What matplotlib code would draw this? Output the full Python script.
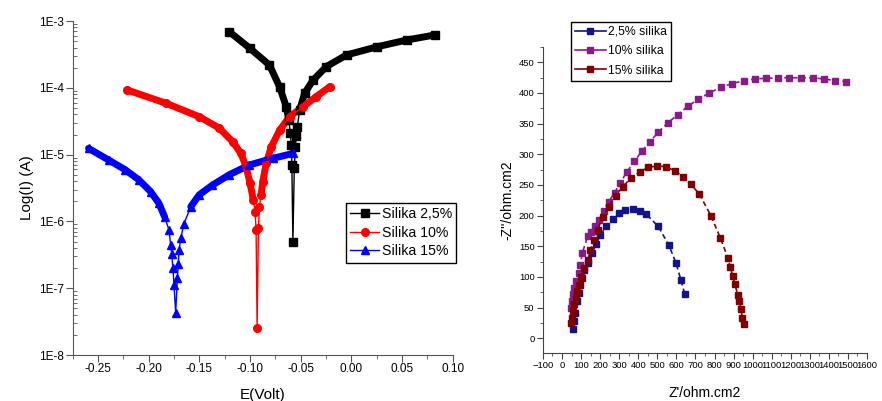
import numpy as np
import matplotlib
matplotlib.use("Agg")
import matplotlib.pyplot as plt
from matplotlib.ticker import FixedLocator, FuncFormatter, LogLocator, NullFormatter, MultipleLocator

plt.rcParams['font.family'] = ['Liberation Sans', 'DejaVu Sans']

# ---------------- Tafel data (E in V, I in A) ----------------
E_25 = [-0.1203, -0.1000, -0.0807, -0.0708, -0.0641, -0.0616, -0.0602, -0.0592, -0.0586, -0.0576,
        -0.0562, -0.0552, -0.0542, -0.0532, -0.0509, -0.0460, -0.0378, -0.0245, -0.0047, 0.0251,
        0.0548, 0.0829]
I_25 = [6.9e-4, 3.9e-4, 2.19e-4, 1.04e-4, 5.2e-5, 3.3e-5, 2.1e-5, 1.39e-5, 7.0e-6, 5.0e-7,
        6.2e-6, 1.32e-5, 1.9e-5, 2.6e-5, 4.7e-5, 8.3e-5, 1.3e-4, 2.08e-4, 3.1e-4, 4.1e-4,
        5.2e-4, 6.2e-4]

E_10 = [-0.2212, -0.1831, -0.1500, -0.1303, -0.1170, -0.1088, -0.1038, -0.0998, -0.0966, -0.0949,
        -0.0939, -0.0929, -0.0916, -0.0906, -0.0890, -0.0873, -0.0840, -0.0790, -0.0708, -0.0609,
        -0.0477, -0.0344, -0.0212]
I_10 = [9.3e-5, 5.9e-5, 3.7e-5, 2.5e-5, 1.56e-5, 1.04e-5, 6.6e-6, 3.7e-6, 2.08e-6, 1.4e-6,
        7.4e-7, 2.5e-8, 7.9e-7, 1.66e-6, 2.5e-6, 3.9e-6, 7.4e-6, 1.3e-5, 2.3e-5, 3.7e-5,
        5.2e-5, 7.4e-5, 1.04e-4]

E_15 = [-0.2592, -0.2393, -0.2228, -0.2096, -0.1980, -0.1898, -0.1841, -0.1798, -0.1782, -0.1772,
        -0.1759, -0.1749, -0.1732, -0.1716, -0.1706, -0.1699, -0.1682, -0.1650, -0.1583, -0.1500,
        -0.1369, -0.1203, -0.1005, -0.0774, -0.0576]
I_15 = [1.24e-5, 8.3e-6, 5.9e-6, 4.2e-6, 2.8e-6, 1.87e-6, 1.17e-6, 7.4e-7, 4.4e-7, 3.3e-7,
        2.0e-7, 1.12e-7, 4.2e-8, 1.42e-7, 2.3e-7, 3.7e-7, 5.6e-7, 9.3e-7, 1.66e-6, 2.5e-6,
        3.5e-6, 5.0e-6, 7.0e-6, 8.8e-6, 1.04e-5]

tafel_labels = ["Silika 2,5%", "Silika 10%", "Silika 15%"]

# ---------------- Nyquist data (ohm.cm2) ----------------
Zr_25 = [57.4, 64.4, 69.6, 78.4, 87.0, 96.0, 104.6, 116.9, 134.3, 157.0, 179.8, 200.8, 232.3, 265.5,
         297.0, 332.0, 370.4, 407.0, 442.0, 505.0, 559.5, 598.0, 624.0, 643.0]
Zi_25 = [14.6, 28.0, 41.6, 60.6, 74.0, 87.6, 98.4, 111.0, 122.8, 139.0, 153.6, 168.7, 182.3, 194.7,
         204.0, 209.3, 211.0, 208.2, 202.3, 182.3, 152.5, 122.8, 94.7, 73.0]

Zr_10 = [46.9, 52.2, 57.4, 64.4, 74.9, 88.9, 96.0, 106.4, 134.3, 151.8, 174.6, 192.0, 218.3, 244.5,
         276.0, 305.7, 340.7, 379.2, 419.4, 459.6, 505.1, 554.0, 606.5, 659.0, 715.0, 772.6, 832.0,
         891.6, 952.8, 1012.3, 1071.7, 1131.0, 1192.0, 1253.6, 1315.0, 1372.6, 1432.0, 1491.5]
Zi_10 = [49.8, 60.6, 71.4, 82.2, 93.0, 106.5, 120.0, 139.0, 166.0, 173.0, 183.9, 193.0, 208.2, 222.8,
         237.4, 253.7, 271.5, 288.3, 305.6, 320.2, 335.9, 351.0, 364.5, 378.0, 390.0, 400.2, 409.0,
         415.4, 419.7, 423.0, 424.0, 424.6, 425.1, 424.6, 424.6, 423.0, 420.3, 418.6]

Zr_15 = [48.7, 52.2, 59.1, 64.4, 71.4, 78.4, 88.9, 99.4, 116.9, 134.3, 148.3, 169.3, 186.8, 213.0,
         244.5, 281.3, 318.0, 361.7, 407.2, 452.6, 499.9, 545.3, 592.5, 636.3, 676.5, 720.2, 781.4,
         830.4, 870.6, 882.9, 895.1, 905.6, 923.1, 930.1, 938.8, 945.8, 952.8]
Zi_15 = [24.3, 33.5, 44.4, 55.2, 66.0, 76.8, 87.6, 100.0, 114.7, 127.1, 143.3, 160.6, 176.9, 197.4,
         214.7, 232.0, 247.2, 261.2, 271.5, 278.5, 281.2, 279.6, 273.1, 262.9, 251.0, 235.3, 199.6,
         163.9, 130.9, 116.3, 102.2, 89.2, 69.8, 60.6, 47.1, 33.5, 22.7]

nyq_labels = ["2,5% silika", "10% silika", "15% silika"]

# ---------------- Figure ----------------
fig = plt.figure(figsize=(8.82, 4.01), dpi=100)

# Left: Tafel
ax1 = fig.add_axes([0.0822, 0.1147, 0.4310, 0.8329])
tafel = [(E_25, I_25, 'black', 's', 3e-5),
         (E_10, I_10, '#ff0000', 'o', 2e-6),
         (E_15, I_15, '#0000ff', '^', 1.0e-6)]
for (E, I, c, m, thr), lab in zip(tafel, tafel_labels):
    E = np.array(E); I = np.array(I)
    band = np.where(I >= thr, I, np.nan)
    ax1.plot(E, band, color=c, lw=5, solid_capstyle='round', solid_joinstyle='round', zorder=2)
    ax1.plot(E, I, color=c, lw=1.0, marker=m, ms=5.5, mec=c, mfc=c, label=lab, zorder=3)

ax1.set_yscale('log')
ax1.set_ylim(1e-8, 1e-3)
ax1.set_xlim(-0.275, 0.10)
ax1.xaxis.set_major_locator(MultipleLocator(0.05))
ax1.xaxis.set_minor_locator(MultipleLocator(0.025))
ax1.xaxis.set_major_formatter(FuncFormatter(lambda v, p: f"{v:.2f}"))
ax1.yaxis.set_major_locator(LogLocator(base=10, numticks=10))
ax1.yaxis.set_minor_locator(LogLocator(base=10, subs=np.arange(2, 10), numticks=50))
ax1.yaxis.set_minor_formatter(NullFormatter())
ax1.yaxis.set_major_formatter(FuncFormatter(lambda v, p: f"1E{int(round(np.log10(v)))}"))
for s in ['top', 'right']:
    ax1.spines[s].set_visible(False)
for s in ['left', 'bottom']:
    ax1.spines[s].set_color('#555555')
ax1.tick_params(axis='both', which='major', direction='out', length=5, labelsize=8.5, color='#555555', pad=1)
ax1.tick_params(axis='y', which='minor', direction='in', length=3, color='#555555')
ax1.tick_params(axis='x', which='minor', direction='out', length=3, color='#555555')
ax1.set_ylabel("Log(I) (A)", fontsize=11, labelpad=4)
ax1.set_xlabel("E(Volt)", fontsize=11, labelpad=9)
leg1 = ax1.legend(loc='upper left', bbox_to_anchor=(0.72, 0.455), fontsize=10.2, frameon=True,
                  fancybox=False, edgecolor='black', framealpha=1, handlelength=2.0,
                  handletextpad=0.2, labelspacing=0.32, borderpad=0.3, borderaxespad=0)
leg1.get_frame().set_linewidth(1.0)

# Right: Nyquist
ax2 = fig.add_axes([0.6156, 0.1197, 0.3674, 0.7631])
nyq = [(Zr_25, Zi_25, '#13138a'), (Zr_10, Zi_10, '#8a1a8a'), (Zr_15, Zi_15, '#800000')]
for (x, y, c), lab in zip(nyq, nyq_labels):
    ax2.plot(x, y, color=c, lw=1.2, ls=(0, (3, 2)), marker='s', ms=4, mec=c, mfc=c, label=lab)
ax2.set_xlim(-100, 1600)
ax2.set_ylim(-24, 475)
ax2.xaxis.set_major_locator(MultipleLocator(100))
ax2.xaxis.set_minor_locator(MultipleLocator(50))
ax2.yaxis.set_major_locator(FixedLocator(np.arange(0, 451, 50)))
ax2.yaxis.set_minor_locator(MultipleLocator(25))
for s in ['top', 'right']:
    ax2.spines[s].set_visible(False)
for s in ['left', 'bottom']:
    ax2.spines[s].set_color('#444444')
ax2.tick_params(axis='both', which='major', direction='out', length=4, labelsize=6.8, color='#444444', pad=2)
ax2.tick_params(axis='both', which='minor', direction='out', length=2.5, color='#444444')
ax2.set_xlabel("Z'/ohm.cm2", fontsize=10, labelpad=11)
ax2.set_ylabel("-Z''/ohm.cm2", fontsize=10, labelpad=3)
leg2 = ax2.legend(loc='upper left', bbox_to_anchor=(0.086, 1.083), fontsize=8.8, frameon=True,
                  fancybox=False, edgecolor='black', framealpha=1, handlelength=2.5,
                  handletextpad=0.2, labelspacing=0.6, borderpad=0.35, borderaxespad=0)
leg2.get_frame().set_linewidth(1.0)
for h in leg2.get_lines():
    h.set_linestyle('-')

fig.savefig("out.png", dpi=100)
